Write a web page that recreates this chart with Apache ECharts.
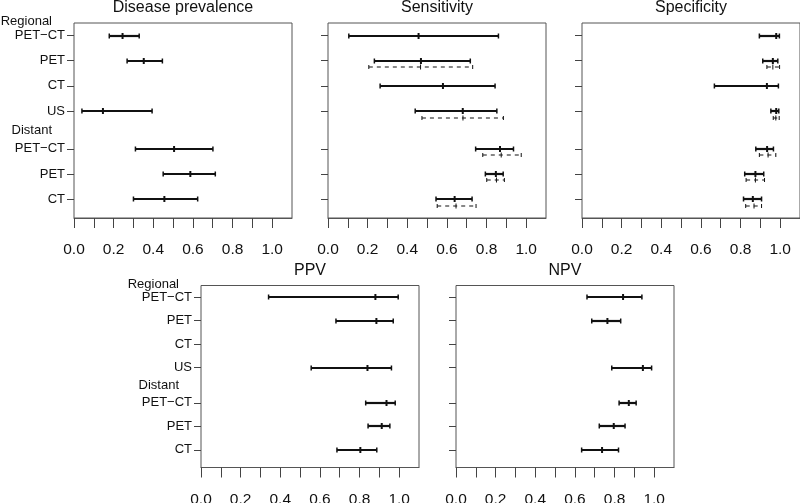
<!DOCTYPE html>
<html>
<head>
<meta charset="utf-8">
<script src="https://cdn.jsdelivr.net/npm/echarts@6/dist/echarts.min.js"></script>
<style>html,body{margin:0;padding:0;background:#fff}#c{width:800px;height:503px}</style>
</head>
<body>
<div id="c"></div>
<script>
// ---- data ----
const rowLabels = ['PET\u2212CT', 'PET', 'CT', 'US', 'PET\u2212CT', 'PET', 'CT'];
const rowPos = [1, 2, 3, 4, 5.5, 6.5, 7.5];
const groupLabels = ['Regional', 'Distant'];
const groupPos = [0.5, 4.82];
const xTicks = [0, 0.1, 0.2, 0.3, 0.4, 0.5, 0.6, 0.7, 0.8, 0.9, 1.0];
const xTickLabels = [0, 0.2, 0.4, 0.6, 0.8, 1.0];

// Disease prevalence
const prevLo  = [0.178, 0.268, null, 0.040, 0.310, 0.450, 0.300];
const prevEst = [0.245, 0.352, null, 0.146, 0.505, 0.587, 0.456];
const prevHi  = [0.329, 0.446, null, 0.394, 0.701, 0.713, 0.624];

// Sensitivity (solid)
const sensLo  = [0.105, 0.234, 0.263, 0.440, 0.745, 0.794, 0.545];
const sensEst = [0.457, 0.469, 0.580, 0.680, 0.868, 0.847, 0.639];
const sensHi  = [0.860, 0.718, 0.843, 0.852, 0.936, 0.884, 0.727];
// Sensitivity (dashed)
const sens2Lo  = [null, 0.206, null, 0.474, 0.781, 0.801, 0.551];
const sens2Est = [null, 0.467, null, 0.681, 0.874, 0.850, 0.646];
const sens2Hi  = [null, 0.730, null, 0.885, 0.975, 0.890, 0.747];

// Specificity (solid)
const specLo  = [0.895, 0.912, 0.668, 0.953, 0.877, 0.821, 0.815];
const specEst = [0.980, 0.963, 0.933, 0.980, 0.934, 0.875, 0.862];
const specHi  = [0.996, 0.988, 0.991, 0.993, 0.966, 0.917, 0.906];
// Specificity (dashed)
const spec2Lo  = [null, 0.933, null, 0.965, 0.895, 0.828, 0.826];
const spec2Est = [null, 0.963, null, 0.978, 0.939, 0.875, 0.868];
const spec2Hi  = [null, 0.997, null, 0.995, 0.978, 0.921, 0.906];

// PPV
const ppvLo  = [0.341, 0.681, null, 0.556, 0.831, 0.843, 0.686];
const ppvEst = [0.880, 0.885, null, 0.840, 0.936, 0.912, 0.804];
const ppvHi  = [0.995, 0.970, null, 0.961, 0.980, 0.953, 0.887];

// NPV
const npvLo  = [0.661, 0.685, null, 0.786, 0.823, 0.723, 0.634];
const npvEst = [0.843, 0.764, null, 0.943, 0.872, 0.796, 0.737];
const npvHi  = [0.938, 0.831, null, 0.987, 0.909, 0.853, 0.820];

const titles = ['Disease prevalence', 'Sensitivity', 'Specificity', 'PPV', 'NPV'];

// ---- build ----
const FONT = '"Liberation Sans", Arial, Helvetica, sans-serif';
const panels = [
  {left: 74,  top: 23,    h: 195, labels: true,  title: titles[0], solid: [prevLo, prevEst, prevHi]},
  {left: 328, top: 23,    h: 195, labels: false, title: titles[1], solid: [sensLo, sensEst, sensHi], dashed: [sens2Lo, sens2Est, sens2Hi]},
  {left: 582, top: 23,    h: 195, labels: false, title: titles[2], solid: [specLo, specEst, specHi], dashed: [spec2Lo, spec2Est, spec2Hi]},
  {left: 201, top: 285.5, h: 182, labels: true,  title: titles[3], solid: [ppvLo, ppvEst, ppvHi]},
  {left: 456, top: 285.5, h: 182, labels: false, title: titles[4], solid: [npvLo, npvEst, npvHi]}
];
const W = 218;

function toData(arrs) {
  const out = [];
  for (let i = 0; i < rowPos.length; i++) {
    if (arrs[0][i] == null) continue;
    out.push([rowPos[i], arrs[0][i], arrs[1][i], arrs[2][i]]);
  }
  return out;
}

function makeRender(dashed) {
  return function (params, api) {
    const y = api.value(0);
    const a = api.coord([api.value(1), y]);
    const e = api.coord([api.value(2), y]);
    const b = api.coord([api.value(3), y]);
    const off = dashed ? 6.5 : 0;
    const yy = Math.round(a[1] + off);
    const lw = dashed ? 1 : 2.2;
    const cap = dashed ? 2 : 2.5;
    const col = '#111';
    const ch = [
      {type: 'line', shape: {x1: a[0], y1: yy, x2: b[0], y2: yy},
       style: {stroke: col, lineWidth: lw, lineDash: dashed ? [4, 4] : null}},
      {type: 'line', shape: {x1: a[0], y1: yy - cap, x2: a[0], y2: yy + cap}, style: {stroke: col, lineWidth: dashed ? 1 : 1.5}},
      {type: 'line', shape: {x1: b[0], y1: yy - cap, x2: b[0], y2: yy + cap}, style: {stroke: col, lineWidth: dashed ? 1 : 1.5}},
      {type: 'line', shape: {x1: e[0], y1: yy - cap - 0.5, x2: e[0], y2: yy + cap + 0.5}, style: {stroke: col, lineWidth: dashed ? 1 : 2}}
    ];
    return {type: 'group', children: ch};
  };
}

const option = {
  animation: false,
  backgroundColor: '#fff',
  title: [], grid: [], xAxis: [], yAxis: [], series: []
};

panels.forEach((p, i) => {
  option.grid.push({left: p.left, top: p.top, width: W, height: p.h, show: true,
    borderColor: '#555', borderWidth: 1, backgroundColor: 'transparent', containLabel: false,
    outerBoundsMode: 'none'});
  option.title.push({text: p.title, left: p.left + W / 2, top: p.top - 23, textAlign: 'center', padding: 0,
    textStyle: {fontFamily: FONT, fontSize: 16, fontWeight: 'normal', color: '#111'}});
  option.xAxis.push({
    type: 'value', gridIndex: i, min: 0, max: 1.1,
    splitLine: {show: false},
    axisLine: {show: true, lineStyle: {color: '#555', width: 1}},
    axisTick: {show: true, length: 10, customValues: xTicks, lineStyle: {color: '#444', width: 1}},
    axisLabel: {show: true, customValues: xTickLabels, margin: 24, fontFamily: FONT, fontSize: 15.5, color: '#111',
      formatter: v => v.toFixed(1)}
  });
  const labVals = groupPos.concat(rowPos);
  option.yAxis.push({
    type: 'value', gridIndex: i, inverse: true, min: 0.5, max: 8.25,
    splitLine: {show: false},
    axisLine: {show: false},
    axisTick: {show: true, length: 7, customValues: rowPos, lineStyle: {color: '#444', width: 1}},
    axisLabel: {show: p.labels, customValues: labVals, margin: 9, showMinLabel: true, showMaxLabel: true,
      fontFamily: FONT, fontSize: 13, color: '#111',
      formatter: function (v) {
        for (let k = 0; k < groupPos.length; k++) if (Math.abs(v - groupPos[k]) < 1e-6) return '{g|' + groupLabels[k] + '}';
        for (let k = 0; k < rowPos.length; k++) if (Math.abs(v - rowPos[k]) < 1e-6) return rowLabels[k];
        return '';
      },
      rich: {g: {fontFamily: FONT, fontSize: 13, color: '#111', padding: [0, 13, 3, 0]}}
    }
  });
  option.series.push({type: 'custom', xAxisIndex: i, yAxisIndex: i, renderItem: makeRender(false),
    data: toData(p.solid), encode: {x: [1, 2, 3], y: 0}, silent: true, clip: false});
  if (p.dashed) {
    option.series.push({type: 'custom', xAxisIndex: i, yAxisIndex: i, renderItem: makeRender(true),
      data: toData(p.dashed), encode: {x: [1, 2, 3], y: 0}, silent: true, clip: false});
  }
});

const chart = echarts.init(document.getElementById('c'), null, {renderer: 'canvas'});
chart.setOption(option);
</script>
</body>
</html>
